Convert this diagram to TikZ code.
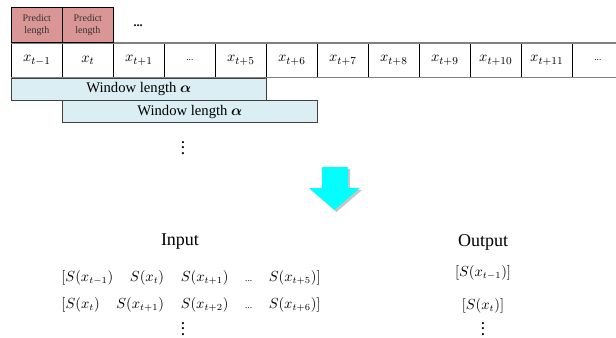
\documentclass[tikz,border=0pt]{standalone}
\usepackage{amsmath}
\usepackage{fontspec}
\setmainfont{Liberation Serif}
\usetikzlibrary{shadows}

\newcommand{\gap}{\hspace{12.5pt}}
\newcommand{\sdots}{\text{\fontsize{7}{8}\selectfont ...}}

\begin{document}
\begin{tikzpicture}[x=0.75pt,y=-0.75pt,
  cell/.style={rectangle,draw=black,line width=0.5pt,anchor=north west,inner sep=0pt,
               minimum width=38.25pt,minimum height=25.5pt,font=\fontsize{11}{13}\selectfont},
  pl/.style={cell,fill=cpred,minimum height=26.25pt,align=center,text=black!80,
             font=\fontsize{7.5}{8.5}\selectfont},
  win/.style={rectangle,draw=black!75,fill=cwin,line width=0.5pt,anchor=north west,inner sep=0pt,
              minimum width=191.25pt,minimum height=16.5pt,font=\fontsize{11}{13}\selectfont},
  lbl/.style={font=\fontsize{13.5}{15}\selectfont},
  seq/.style={font=\fontsize{10.5}{12}\selectfont},
  vd/.style={inner sep=0pt,font=\fontsize{10}{10}\selectfont\bfseries},
]
  \definecolor{cpred}{HTML}{D99694}
  \definecolor{cwin}{HTML}{DAEEF3}
  \definecolor{carrow}{HTML}{00FFFF}
  \useasboundingbox (0,0) rectangle (616,337);

  % the series, one cell per step
  \foreach \lab [count=\i from 0] in {x_{t-1},x_t,x_{t+1},\sdots,x_{t+5},x_{t+6},
      x_{t+7},x_{t+8},x_{t+9},x_{t+10},x_{t+11},\sdots}
    \node[cell] (c\i) at (11+51*\i,43) {$\lab$};
  \draw[gray,line width=1.1pt] (c0.north west) -- (c11.north east);
  \draw[gray,line width=1.1pt] (c0.south west) -- (c11.south east);

  % predicted steps
  \node[pl,anchor=south west] (p0) at (c0.north west) {Predict\\length};
  \node[pl,anchor=south west] (p1) at (c1.north west) {Predict\\length};
  \node[font=\fontsize{9}{10}\selectfont\bfseries] (pdots) at (138,26) {...};

  % sliding windows
  \node[win] (w0) at (c0.south west) {Window length $\boldsymbol{\alpha}$};
  \node[win] (w1) at (w0.south west-|c1.west) {Window length $\boldsymbol{\alpha}$};
  \node[vd] (wdots) at (183,144) {$\vdots$};

  % arrow down to the samples
  \fill[carrow,drop shadow={opacity=0.45,shadow xshift=1.5pt,shadow yshift=-1.5pt}]
    (322,167) -- (348,167) -- (348,188) -- (360,188) -- (334.5,210)
    -- (309,188) -- (322,188) -- cycle;

  % input / output samples
  \node[lbl] (in) at (180,242) {Input};
  \node[lbl] (out) at (483,242) {Output};
  \node[seq] (in1) at (191,278)
    {$[S(x_{t-1})\gap S(x_t)\gap S(x_{t+1})\gap \sdots\gap S(x_{t+5})]$};
  \node[seq] (in2) at (191,305)
    {$[S(x_t)\gap S(x_{t+1})\gap S(x_{t+2})\gap \sdots\gap S(x_{t+6})]$};
  \node[vd] (indots) at (183,325) {$\vdots$};
  \node[seq] (out1) at (483,273) {$[S(x_{t-1})]$};
  \node[seq] (out2) at (483,306) {$[S(x_t)]$};
  \node[vd] (outdots) at (483,325) {$\vdots$};
\end{tikzpicture}
\end{document}
